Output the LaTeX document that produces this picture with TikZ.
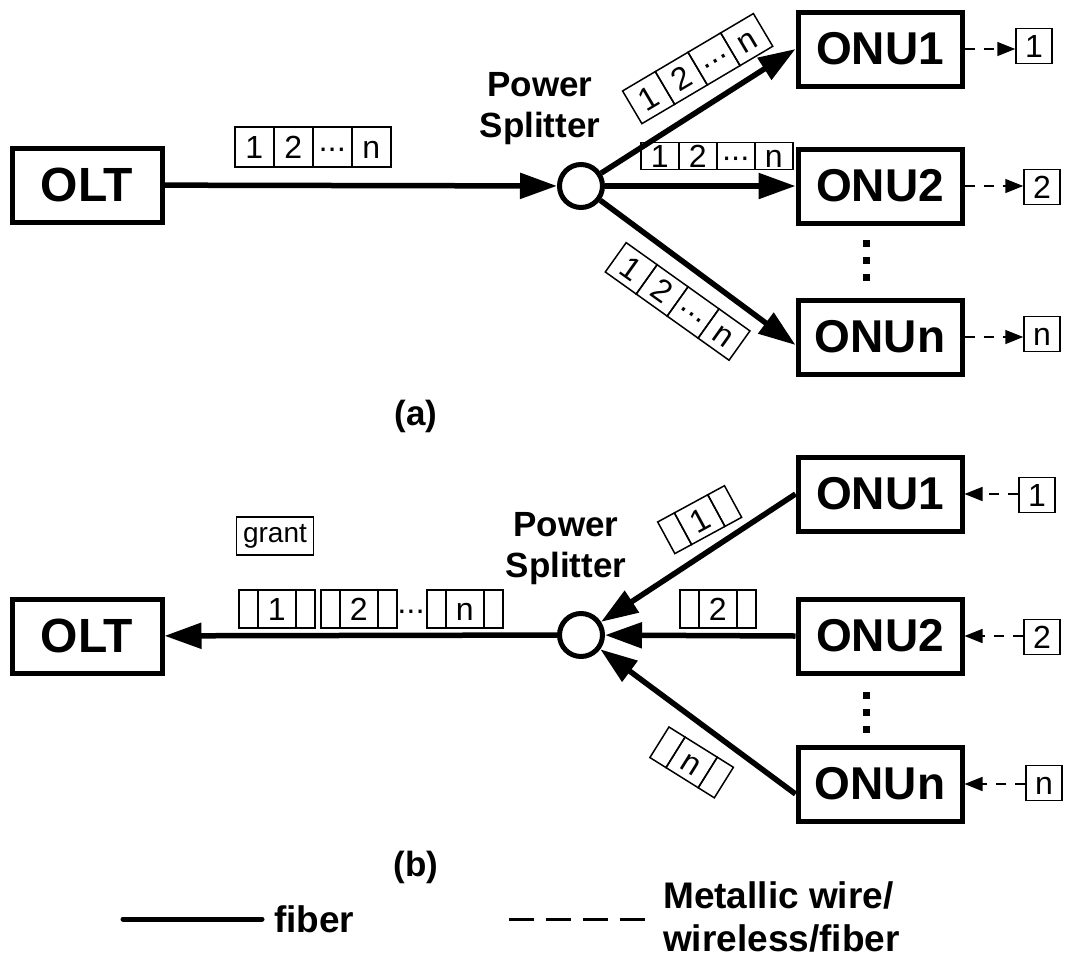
\documentclass[tikz,border=0pt]{standalone}
\usepackage{fontspec}
\setmainfont{Liberation Sans}
\usetikzlibrary{arrows.meta,calc}
\newcommand{\mdots}{\kern-1pt·\kern-1.5pt·\kern-1.5pt·\kern-1pt}
% name, centre, angle, height, list of x/width/text (x relative to centre)
\newcommand{\packet}[5]{%
  \begin{scope}[shift={#2}, rotate=#3]
    \foreach \pcx/\pcw/\pct [count=\pcn] in {#5}
      \node[cell, transform shape, anchor=west, minimum width=\pcw pt, minimum height=#4pt] (#1-\pcn) at (\pcx,0) {\pct};
  \end{scope}}
\begin{document}
\begin{tikzpicture}[x=1pt,y=-1pt,
  box/.style={draw, line width=5pt, minimum width=164pt, minimum height=74pt, inner sep=0pt,
    font=\fontsize{46}{50}\selectfont\bfseries},
  splitter/.style={draw, circle, line width=5pt, minimum size=43pt, inner sep=0pt},
  fiber/.style={line width=5.5pt, -{Triangle[length=37pt,width=25pt]}},
  wire/.style={line width=1.5pt, dash pattern=on 10pt off 9pt, -{Triangle[length=18pt,width=14pt]}},
  cell/.style={draw, line width=1.5pt, inner sep=0pt, font=\fontsize{32}{32}\selectfont,
    text height=23pt, text depth=0pt},
  tag/.style={cell, minimum width=36pt, minimum height=35pt},
  lbl/.style={font=\fontsize{35}{41}\selectfont\bfseries, align=center, inner sep=0pt},
  leg/.style={font=\fontsize{37}{43}\selectfont\bfseries, inner sep=0pt},
  dot/.style={fill, minimum size=7pt, inner sep=0pt},
]
\useasboundingbox (0,0) rectangle (1069,962);

% ---------------- (a) downstream ----------------
\node[box, minimum width=150pt, font=\fontsize{48}{50}\selectfont\bfseries] (olta) at (87,185) {OLT};
\node[splitter] (spla) at (581,186) {};
\node[lbl] (psa) at (540,109) {Power\\Splitter};
\node[box] (onu1a) at (880,49) {ONU1};
\node[box] (onu2a) at (880,186) {ONU2};
\node[box] (onuna) at (880,337) {ONUn};
\node[dot] (d1a) at (866,243) {};
\node[dot] (d2a) at (866,260) {};
\node[dot] (d3a) at (866,277) {};
\node[tag] (t1a) at (1034,46) {1};
\node[tag] (t2a) at (1042,187) {2};
\node[tag] (tna) at (1042,334) {n};

\draw[fiber] (olta) -- (spla);
\draw[fiber] (spla) -- (onu1a.west);
\draw[fiber] (spla) -- (onu2a.west);
\draw[fiber] (spla) -- ([yshift=-8pt]onuna.west);
\draw[wire] (onu1a) -- (onu1a -| t1a.west);
\draw[wire] (onu2a) -- (onu2a -| t2a.west);
\draw[wire] (onuna) -- (onuna -| tna.west);

\packet{pa}{(312,147)}{0}{40}{-78/39/1,-39/39/2,0/39/\mdots,39/39/n}
\packet{p1a}{(697,69)}{30.6}{38}{-76/38/1,-38/38/2,0/38/\mdots,38/38/n}
\packet{p2a}{(716,156)}{0}{27}{-76/38/1,-38/38/2,0/38/\mdots,38/38/n}
\packet{pna}{(677,301)}{-35.5}{36}{-76/38/1,-38/38/2,0/38/\mdots,38/38/n}

\node[lbl] (capa) at (416,416) {(a)};

% ---------------- (b) upstream ----------------
\node[box, minimum width=150pt, font=\fontsize{48}{50}\selectfont\bfseries] (oltb) at (87,636) {OLT};
\node[splitter] (splb) at (581,635) {};
\node[lbl] (psb) at (566,549) {Power\\Splitter};
\node[box] (onu1b) at (880,494) {ONU1};
\node[box] (onu2b) at (880,636) {ONU2};
\node[box] (onunb) at (880,784) {ONUn};
\node[dot] (d1b) at (866,695) {};
\node[dot] (d2b) at (866,712) {};
\node[dot] (d3b) at (866,729) {};
\node[tag] (t1b) at (1037,495) {1};
\node[tag] (t2b) at (1042,637) {2};
\node[tag] (tnb) at (1044,783) {n};

\draw[fiber] (splb) -- (oltb);
\draw[fiber] (onu1b.west) -- (splb);
\draw[fiber] (onu2b.west) -- (splb);
\draw[fiber] ([yshift=-10pt]onunb.west) -- (splb);
\draw[wire] (t1b.west |- onu1b) -- (onu1b);
\draw[wire] (t2b.west |- onu2b) -- (onu2b);
\draw[wire] (tnb.west |- onunb) -- (onunb);

\node[draw, line width=1.5pt, inner sep=0pt, minimum width=77pt, minimum height=38pt,
  font=\fontsize{28}{28}\selectfont] (grant) at (275,536) {grant};
\packet{q1}{(276,609)}{0}{38}{-38/19/{},-19/38/1,19/19/{}}
\packet{q2}{(358,609)}{0}{38}{-38/19/{},-19/38/2,19/19/{}}
\node[font=\fontsize{32}{32}\selectfont, inner sep=0pt, text height=23pt, text depth=0pt] (qdots) at (411,609) {\mdots};
\packet{qn}{(464,609)}{0}{38}{-38/19/{},-19/38/n,19/19/{}}
\packet{r2}{(717,609)}{0}{38}{-38/19/{},-19/38/2,19/19/{}}
\packet{r1}{(699,520)}{28.5}{36}{-38/19/{},-19/38/1,19/19/{}}
\packet{rn}{(691,762)}{-32}{36}{-38/19/{},-19/38/n,19/19/{}}

\node[lbl] (capb) at (416,867) {(b)};

% ---------------- legend ----------------
\coordinate (fa) at (123,919);
\coordinate (fb) at (262,919);
\draw[line width=5pt, line cap=round] (fa) -- (fb);
\node[leg, anchor=west] (fiberlbl) at (274,919) {fiber};
\coordinate (wa) at (509,919);
\coordinate (wb) at (646,919);
\draw[line width=3pt, dash pattern=on 25pt off 12pt] (wa) -- (wb);
\node[leg, anchor=west, align=left] (wirelbl) at (663,917) {Metallic wire/\\wireless/fiber};
\end{tikzpicture}
\end{document}
